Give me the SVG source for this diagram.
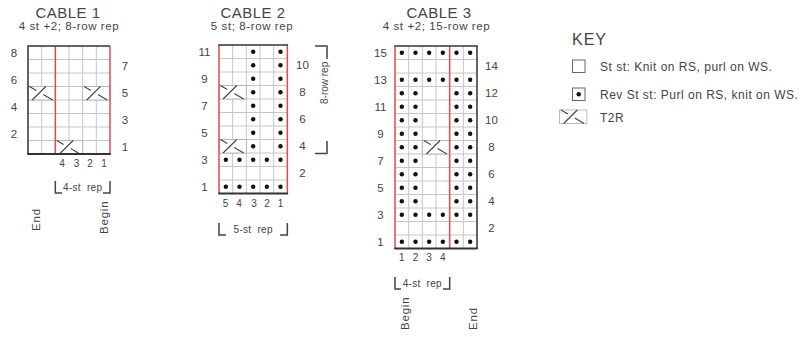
<svg xmlns="http://www.w3.org/2000/svg" width="809" height="337" viewBox="0 0 809 337">
<style>
.t{font-family:"Liberation Sans",Arial,Helvetica,sans-serif;fill:#444}
.title{font-size:15px;letter-spacing:0.5px;text-anchor:middle}
.sub{font-size:11.5px;letter-spacing:0.6px;text-anchor:middle}
.rn{font-size:11.5px;text-anchor:middle}
.cn{font-size:10px;text-anchor:middle}
.rep{font-size:10px;text-anchor:middle;letter-spacing:0.3px;word-spacing:3px}
.rot{font-size:11.5px;letter-spacing:0.8px}
.key{font-size:12px;letter-spacing:0.5px}
.grid{stroke:#c6c6c6;stroke-width:1;fill:none}
.red{stroke:#e5484d;stroke-width:1.5;fill:none}
.edge{stroke:#333;stroke-width:1.5;fill:none}
.bot{stroke:#333;stroke-width:2;fill:none}
.br{stroke:#444;stroke-width:1.5;fill:none}
</style>
<defs>
<circle id="d" r="2.2" fill="#111"/>
<g id="t2r">
<rect width="27.33" height="13.5" fill="#fff" stroke="#aaa" stroke-width="0.8"/>
<path d="M4.1 13.5 L17.8 0 M1.4 0 L8.3 4.05 M15.3 8.1 L24.6 13.5" stroke="#444" stroke-width="1.1" fill="none"/>
</g>
</defs>

<g id="cable1">
<text class="t title" x="68" y="18">CABLE 1</text>
<text class="t sub" x="69" y="30">4 st +2; 8-row rep</text>
<path class="grid" d="M41.67 46V154M69 46V154M82.67 46V154M96.33 46V154M28 59.5H110M28 73H110M28 86.5H110M28 100H110M28 113.5H110M28 127H110M28 140.5H110"/>
<use href="#t2r" x="28" y="86.5"/>
<use href="#t2r" x="82.67" y="86.5"/>
<use href="#t2r" x="55.33" y="140.5"/>
<path class="red" d="M55.33 46V154M110 46V154"/>
<path class="edge" d="M28 46V154M27.25 46H110"/>
<path class="bot" d="M27.25 154H110.75"/>
<g class="t rn">
<text x="14" y="56.75">8</text><text x="14" y="83.75">6</text><text x="14" y="110.75">4</text><text x="14" y="137.75">2</text>
<text x="125" y="70.25">7</text><text x="125" y="97.25">5</text><text x="125" y="124.25">3</text><text x="125" y="151.25">1</text>
</g>
<g class="t cn">
<text x="62" y="167">4</text><text x="76.5" y="167">3</text><text x="90" y="167">2</text><text x="104" y="167">1</text>
</g>
<path class="br" d="M55.33 181V193H62M110 181V193H103"/>
<text class="t rep" x="82.7" y="191">4-st rep</text>
<text class="t rot" transform="translate(40,231) rotate(-90)">End</text>
<text class="t rot" transform="translate(108,234) rotate(-90)">Begin</text>
</g>

<g id="cable2">
<text class="t title" x="253" y="18">CABLE 2</text>
<text class="t sub" x="252" y="30">5 st; 8-row rep</text>
<path class="grid" d="M232.67 45V193.5M246.33 45V193.5M260 45V193.5M273.67 45V193.5M219 58.5H287.33M219 72H287.33M219 85.5H287.33M219 99H287.33M219 112.5H287.33M219 126H287.33M219 139.5H287.33M219 153H287.33M219 166.5H287.33M219 180H287.33"/>
<use href="#t2r" x="219" y="85.5"/>
<use href="#t2r" x="219" y="139.5"/>
<g>
<use href="#d" x="225.83" y="186.75"/><use href="#d" x="239.5" y="186.75"/><use href="#d" x="253.17" y="186.75"/><use href="#d" x="266.83" y="186.75"/><use href="#d" x="280.5" y="186.75"/>
<use href="#d" x="225.83" y="159.75"/><use href="#d" x="239.5" y="159.75"/><use href="#d" x="253.17" y="159.75"/><use href="#d" x="266.83" y="159.75"/><use href="#d" x="280.5" y="159.75"/>
<use href="#d" x="253.17" y="146.25"/><use href="#d" x="280.5" y="146.25"/>
<use href="#d" x="253.17" y="132.75"/><use href="#d" x="280.5" y="132.75"/>
<use href="#d" x="253.17" y="119.25"/><use href="#d" x="280.5" y="119.25"/>
<use href="#d" x="253.17" y="105.75"/><use href="#d" x="280.5" y="105.75"/>
<use href="#d" x="253.17" y="92.25"/><use href="#d" x="280.5" y="92.25"/>
<use href="#d" x="253.17" y="78.75"/><use href="#d" x="280.5" y="78.75"/>
<use href="#d" x="253.17" y="65.25"/><use href="#d" x="280.5" y="65.25"/>
<use href="#d" x="253.17" y="51.75"/><use href="#d" x="280.5" y="51.75"/>
</g>
<path class="red" d="M219 45V193.5M287.33 45V193.5"/>
<path class="edge" d="M218.25 45H288.08"/>
<path class="bot" d="M218.25 193.5H288.08"/>
<g class="t rn">
<text x="204.5" y="55.75">11</text><text x="204.5" y="82.75">9</text><text x="204.5" y="109.75">7</text><text x="204.5" y="136.75">5</text><text x="204.5" y="163.75">3</text><text x="204.5" y="190.75">1</text>
<text x="302.5" y="69.25">10</text><text x="302.5" y="96.25">8</text><text x="302.5" y="123.25">6</text><text x="302.5" y="150.25">4</text><text x="302.5" y="177.25">2</text>
</g>
<g class="t cn">
<text x="225.5" y="207">5</text><text x="239" y="207">4</text><text x="254" y="207">3</text><text x="267" y="207">2</text><text x="280.5" y="207">1</text>
</g>
<path class="br" d="M315 46H327V59M327 141V153.5H315"/>
<text class="t" style="font-size:10px" transform="translate(327.5,104) rotate(-90)">8-row rep</text>
<path class="br" d="M219 223V235H226M287.33 223V235H280"/>
<text class="t rep" x="253.2" y="233">5-st rep</text>
</g>

<g id="cable3">
<text class="t title" x="439" y="18">CABLE 3</text>
<text class="t sub" x="436.5" y="30">4 st +2; 15-row rep</text>
<path class="grid" d="M408.67 46V248.5M422.33 46V248.5M436 46V248.5M463.33 46V248.5M395 59.5H477M395 73H477M395 86.5H477M395 100H477M395 113.5H477M395 127H477M395 140.5H477M395 154H477M395 167.5H477M395 181H477M395 194.5H477M395 208H477M395 221.5H477M395 235H477"/>
<use href="#t2r" x="422.33" y="140.5"/>
<g>
<use href="#d" x="401.83" y="241.75"/><use href="#d" x="415.5" y="241.75"/><use href="#d" x="429.17" y="241.75"/><use href="#d" x="442.83" y="241.75"/><use href="#d" x="456.5" y="241.75"/><use href="#d" x="470.17" y="241.75"/>
<use href="#d" x="401.83" y="214.75"/><use href="#d" x="415.5" y="214.75"/><use href="#d" x="429.17" y="214.75"/><use href="#d" x="442.83" y="214.75"/><use href="#d" x="456.5" y="214.75"/><use href="#d" x="470.17" y="214.75"/>
<use href="#d" x="401.83" y="79.75"/><use href="#d" x="415.5" y="79.75"/><use href="#d" x="429.17" y="79.75"/><use href="#d" x="442.83" y="79.75"/><use href="#d" x="456.5" y="79.75"/><use href="#d" x="470.17" y="79.75"/>
<use href="#d" x="401.83" y="52.75"/><use href="#d" x="415.5" y="52.75"/><use href="#d" x="429.17" y="52.75"/><use href="#d" x="442.83" y="52.75"/><use href="#d" x="456.5" y="52.75"/><use href="#d" x="470.17" y="52.75"/>
<use href="#d" x="401.83" y="201.25"/><use href="#d" x="415.5" y="201.25"/><use href="#d" x="456.5" y="201.25"/><use href="#d" x="470.17" y="201.25"/>
<use href="#d" x="401.83" y="187.75"/><use href="#d" x="415.5" y="187.75"/><use href="#d" x="456.5" y="187.75"/><use href="#d" x="470.17" y="187.75"/>
<use href="#d" x="401.83" y="174.25"/><use href="#d" x="415.5" y="174.25"/><use href="#d" x="456.5" y="174.25"/><use href="#d" x="470.17" y="174.25"/>
<use href="#d" x="401.83" y="160.75"/><use href="#d" x="415.5" y="160.75"/><use href="#d" x="456.5" y="160.75"/><use href="#d" x="470.17" y="160.75"/>
<use href="#d" x="401.83" y="147.25"/><use href="#d" x="415.5" y="147.25"/><use href="#d" x="456.5" y="147.25"/><use href="#d" x="470.17" y="147.25"/>
<use href="#d" x="401.83" y="133.75"/><use href="#d" x="415.5" y="133.75"/><use href="#d" x="456.5" y="133.75"/><use href="#d" x="470.17" y="133.75"/>
<use href="#d" x="401.83" y="120.25"/><use href="#d" x="415.5" y="120.25"/><use href="#d" x="456.5" y="120.25"/><use href="#d" x="470.17" y="120.25"/>
<use href="#d" x="401.83" y="106.75"/><use href="#d" x="415.5" y="106.75"/><use href="#d" x="456.5" y="106.75"/><use href="#d" x="470.17" y="106.75"/>
<use href="#d" x="401.83" y="93.25"/><use href="#d" x="415.5" y="93.25"/><use href="#d" x="456.5" y="93.25"/><use href="#d" x="470.17" y="93.25"/>
</g>
<path class="red" d="M395 46V248.5M449.67 46V248.5"/>
<path class="edge" d="M477 46V248.5M394.25 46H477.75"/>
<path class="bot" d="M394.25 248.5H477.75"/>
<g class="t rn">
<text x="380.5" y="56.75">15</text><text x="380.5" y="83.75">13</text><text x="380.5" y="110.75">11</text><text x="380.5" y="137.75">9</text><text x="380.5" y="164.75">7</text><text x="380.5" y="191.75">5</text><text x="380.5" y="218.75">3</text><text x="380.5" y="245.75">1</text>
<text x="491.5" y="70.25">14</text><text x="491.5" y="97.25">12</text><text x="491.5" y="124.25">10</text><text x="491.5" y="151.25">8</text><text x="491.5" y="178.25">6</text><text x="491.5" y="205.25">4</text><text x="491.5" y="232.25">2</text>
</g>
<g class="t cn">
<text x="401.8" y="261">1</text><text x="415.5" y="261">2</text><text x="429" y="261">3</text><text x="442.8" y="261">4</text>
</g>
<path class="br" d="M395 277V289H401M449.67 277V289H443"/>
<text class="t rep" x="422.3" y="287">4-st rep</text>
<text class="t rot" transform="translate(409,330) rotate(-90)">Begin</text>
<text class="t rot" transform="translate(476.5,330) rotate(-90)">End</text>
</g>

<g id="key">
<text class="t" style="font-size:16px;letter-spacing:1px" x="572" y="45">KEY</text>
<rect x="572.5" y="60" width="12.5" height="12.5" fill="#fff" stroke="#666" stroke-width="1"/>
<text class="t key" x="600" y="71">St st: Knit on RS, purl on WS.</text>
<rect x="572.5" y="88" width="12.5" height="12.5" fill="#fff" stroke="#666" stroke-width="1"/>
<use href="#d" x="578.75" y="94.25"/>
<text class="t key" x="600" y="99">Rev St st: Purl on RS, knit on WS.</text>
<use href="#t2r" x="559.5" y="110"/>
<text class="t key" x="600" y="121.5">T2R</text>
</g>
</svg>
